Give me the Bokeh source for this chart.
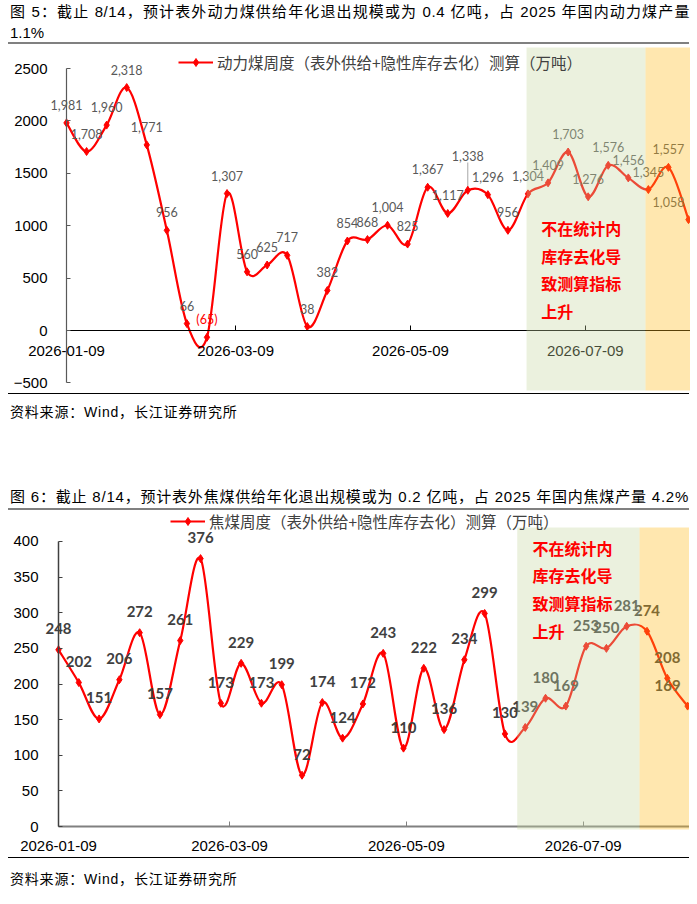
import numpy as np
import pandas as pd
from bokeh.plotting import figure
from bokeh.models import (ColumnDataSource, FixedTicker, DatetimeTickFormatter, Legend,
                          LegendItem, Div, Range1d)
from bokeh.layouts import column
from bokeh.embed import file_html
from bokeh.resources import INLINE
from bokeh.core.properties import value

# ---------------- data ----------------
dates = ["2026-01-09", "2026-01-16", "2026-01-23", "2026-01-30", "2026-02-06", "2026-02-13",
         "2026-02-20", "2026-02-27", "2026-03-06", "2026-03-13", "2026-03-20", "2026-03-27",
         "2026-04-03", "2026-04-10", "2026-04-17", "2026-04-24", "2026-05-01", "2026-05-08",
         "2026-05-15", "2026-05-22", "2026-05-29", "2026-06-05", "2026-06-12", "2026-06-19",
         "2026-06-26", "2026-07-03", "2026-07-10", "2026-07-17", "2026-07-24", "2026-07-31",
         "2026-08-07", "2026-08-14"]
thermal = [1981, 1708, 1960, 2318, 1771, 956, 66, -65, 1307, 560, 625, 717, 38, 382, 854, 868,
           1004, 825, 1367, 1117, 1338, 1296, 956, 1304, 1409, 1703, 1276, 1576, 1456, 1345,
           1557, 1058]
coking = [248, 202, 151, 206, 272, 157, 261, 376, 173, 229, 173, 199, 72, 174, 124, 172, 243,
          110, 222, 136, 234, 299, 130, 139, 180, 169, 253, 250, 281, 274, 208, 169]
x_tick_dates = ["2026-01-09", "2026-03-09", "2026-05-09", "2026-07-09"]
y_ticks_top = [-500, 0, 500, 1000, 1500, 2000, 2500]
y_ticks_bot = [0, 50, 100, 150, 200, 250, 300, 350, 400]

title_top_1 = "图 5：截止 8/14，预计表外动力煤供给年化退出规模或为 0.4 亿吨，占 2025 年国内动力煤产量"
title_top_2 = "1.1%"
title_bot = "图 6：截止 8/14，预计表外焦煤供给年化退出规模或为 0.2 亿吨，占 2025 年国内焦煤产量 4.2%"
legend_top = "动力煤周度（表外供给+隐性库存去化）测算（万吨）"
legend_bot = "焦煤周度（表外供给+隐性库存去化）测算（万吨）"
note_text = "不在统计内\n库存去化导\n致测算指标\n上升"
source_text = "资料来源：Wind，长江证券研究所"

# ---------------- helpers ----------------
DAY = 86400000.0


def ms(s):
    return pd.Timestamp(s).value / 1e6


xs = np.array([ms(d) for d in dates])
X0 = ms("2026-01-09")
X_END = X0 + 217.7 * DAY

RED = "#FF0000"
CJK = "Noto Sans CJK SC"
LAT = "Liberation Sans"


def bezier_source(xv, yv):
    P = np.column_stack([xv, np.asarray(yv, dtype=float)])
    n = len(P)
    cols = {k: [] for k in ["x0", "y0", "x1", "y1", "cx0", "cy0", "cx1", "cy1"]}
    for i in range(n - 1):
        p0 = P[max(i - 1, 0)]
        p1 = P[i]
        p2 = P[i + 1]
        p3 = P[min(i + 2, n - 1)]
        c1 = p1 + (p2 - p0) / 6.0
        c2 = p2 - (p3 - p1) / 6.0
        cols["x0"].append(p1[0]); cols["y0"].append(p1[1])
        cols["x1"].append(p2[0]); cols["y1"].append(p2[1])
        cols["cx0"].append(c1[0]); cols["cy0"].append(c1[1])
        cols["cx1"].append(c2[0]); cols["cy1"].append(c2[1])
    return ColumnDataSource(cols)


def base_fig(width, height, xr, yr):
    p = figure(width=width, height=height, x_range=Range1d(*xr), y_range=Range1d(*yr),
               x_axis_type="datetime", output_backend="svg", toolbar_location=None,
               min_border_left=0, min_border_right=0, min_border_top=0, min_border_bottom=0)
    p.xgrid.visible = False
    p.ygrid.visible = False
    p.outline_line_color = None
    p.background_fill_color = "white"
    p.border_fill_color = "white"
    return p


def style_axes(p, y_ticks, y_bounds, x_color, x_width, y_color, y_width, x_standoff, y_standoff):
    xa = p.xaxis[0]
    xa.fixed_location = 0
    xa.bounds = (X0, X_END)
    xa.ticker = FixedTicker(ticks=[ms(t) for t in x_tick_dates])
    xa.formatter = DatetimeTickFormatter(days="%Y-%m-%d", months="%Y-%m-%d", years="%Y-%m-%d",
                                         hours="%Y-%m-%d", hourmin="%Y-%m-%d")
    xa.axis_line_color = x_color
    xa.axis_line_width = x_width
    xa.major_tick_line_color = x_color
    xa.major_tick_in = 5
    xa.major_tick_out = 0
    xa.minor_tick_line_color = None
    xa.major_label_text_font = LAT
    xa.major_label_text_font_size = "15px"
    xa.major_label_text_color = "#000000"
    xa.major_label_standoff = x_standoff

    ya = p.yaxis[0]
    ya.fixed_location = X0
    ya.ticker = FixedTicker(ticks=y_ticks)
    ya.bounds = y_bounds
    ya.axis_line_color = y_color
    ya.axis_line_width = y_width
    ya.major_tick_line_color = y_color
    ya.major_tick_in = 4
    ya.major_tick_out = 0
    ya.minor_tick_line_color = None
    ya.major_label_text_font = LAT
    ya.major_label_text_font_size = "15px"
    ya.major_label_text_color = "#000000"
    ya.major_label_standoff = y_standoff


def add_shades(p, green, yellow_start, ybot, ytop):
    p.quad(left=[ms(green[0])], right=[ms(green[1])], bottom=[ybot], top=[ytop],
           fill_color="#C6D7A1", fill_alpha=0.35, line_color=None, level="annotation")
    p.quad(left=[ms(yellow_start)], right=[X_END + DAY], bottom=[ybot], top=[ytop],
           fill_color="#FFBA1A", fill_alpha=0.35, line_color=None, level="annotation")


def add_legend(p, label, rends, loc):
    lg = Legend(items=[LegendItem(label=label, renderers=rends)], location=loc)
    lg.label_text_font = CJK
    lg.label_text_font_size = "15.5px"
    lg.label_text_color = "#404040"
    lg.glyph_width = 35
    lg.glyph_height = 20
    lg.label_height = 20
    lg.label_standoff = 4
    lg.padding = 0
    lg.margin = 0
    lg.spacing = 0
    lg.border_line_color = None
    lg.background_fill_alpha = 0
    p.add_layout(lg, "center")


# ---------------- top chart ----------------
# frame: page x 8..690, page y 44..393 ; y-axis at page x 66
p1 = base_fig(682, 349, (X0 - 20.24 * DAY, X_END), (-601, 2729))
style_axes(p1, y_ticks_top, (-500, 2500), "#000000", 1, "#595959", 1.2, 15, 19)

lead_i = 20
p1.segment(x0=[xs[lead_i]], y0=[thermal[lead_i] + 20], x1=[xs[lead_i]], y1=[thermal[lead_i] + 265],
           line_color="#A6A6A6", line_width=1)

bz1 = p1.bezier(source=bezier_source(xs, thermal), x0="x0", y0="y0", x1="x1", y1="y1",
                cx0="cx0", cy0="cy0", cx1="cx1", cy1="cy1", line_color=RED, line_width=2.2)
sc1 = p1.scatter(xs, thermal, marker="diamond", size=8, fill_color=RED, line_color=RED)

lab1 = ["({:,})".format(-v) if v < 0 else "{:,}".format(v) for v in thermal]
col1 = [RED if v < 0 else "#595959" for v in thermal]
dx1 = [0.0] * len(thermal)
dy1 = [-18.0] * len(thermal)
dy1[lead_i] = -34.0
dx1[-1] = -20.0
p1.text(x="x", y="y", text="t", text_color="c", x_offset="dx", y_offset="dy",
        source=ColumnDataSource(dict(x=xs, y=thermal, t=lab1, c=col1, dx=dx1, dy=dy1)),
        text_font=value("Lato"), text_font_size="12.5px", text_align="center",
        text_baseline="middle")

add_shades(p1, ("2026-06-18 12:00", "2026-07-30"), "2026-07-30", -572, 2700)

p1.text(x=[ms("2026-06-23 16:00")], y=[1090], text=[note_text], text_font=value(CJK),
        text_font_style="bold", text_font_size="16px", text_color=RED, text_align="left",
        text_baseline="top", text_line_height=1.15, level="overlay")

add_legend(p1, legend_top, [bz1, sc1], (170, 320))

# ---------------- bottom chart ----------------
# frame: page x 8..689, page y 510..857 ; y-axis at page x 58
p2 = base_fig(681, 347, (X0 - 17.25 * DAY, X0 + 217.66 * DAY), (-43.5, 443.5))
style_axes(p2, y_ticks_bot, (0, 400), "#808080", 2, "#404040", 1.5, 14, 20)

bz2 = p2.bezier(source=bezier_source(xs, coking), x0="x0", y0="y0", x1="x1", y1="y1",
                cx0="cx0", cy0="cy0", cx1="cx1", cy1="cy1", line_color=RED, line_width=2.2)
sc2 = p2.scatter(xs, coking, marker="diamond", size=8, fill_color=RED, line_color=RED)

lab2 = ["{:,}".format(v) for v in coking]
dx2 = [0.0] * len(coking)
dx2[-1] = -20.0
p2.text(x="x", y="y", text="t", x_offset="dx", y_offset=-21,
        source=ColumnDataSource(dict(x=xs, y=coking, t=lab2, dx=dx2)),
        text_font=value("Lato"), text_font_style="bold", text_font_size="15px",
        text_color="#404040", text_align="center", text_baseline="middle")

add_shades(p2, ("2026-06-16 06:00", "2026-07-28 10:00"), "2026-07-28 10:00", -4.2, 419.6)

p2.text(x=[ms("2026-06-21 12:00")], y=[408], text=[note_text], text_font=value(CJK),
        text_font_style="bold", text_font_size="16px", text_color=RED, text_align="left",
        text_baseline="top", text_line_height=1.15, level="overlay")

add_legend(p2, legend_bot, [bz2, sc2], (162, 325))

# ---------------- text blocks ----------------
FONT_CSS = "font-family:'Liberation Sans','Noto Sans CJK SC',sans-serif;color:#000;"

t1_html = (
    '<div style="position:relative;width:681px;height:36px;box-sizing:border-box;'
    'border-bottom:2px solid #808080;' + FONT_CSS + 'font-size:15px;">'
    '<div style="position:absolute;left:2px;width:680px;top:-4px;line-height:16px;'
    'white-space:nowrap;text-align:justify;text-align-last:justify;letter-spacing:0.6px;">'
    + title_top_1 + '</div>'
    '<div style="position:absolute;left:2px;top:17px;line-height:16px;">' + title_top_2 + '</div>'
    '</div>')
s1_html = (
    '<div style="position:relative;width:681px;height:93px;box-sizing:border-box;'
    'border-top:1px solid #000;' + FONT_CSS + 'font-size:14px;">'
    '<div style="position:absolute;left:2px;top:10px;line-height:16px;letter-spacing:0.8px;">'
    + source_text + '</div></div>')
t2_html = (
    '<div style="position:relative;width:681px;height:24px;box-sizing:border-box;'
    'border-bottom:2px solid #808080;' + FONT_CSS + 'font-size:15px;">'
    '<div style="position:absolute;left:2px;top:3px;line-height:16px;white-space:nowrap;'
    'letter-spacing:0.8px;">' + title_bot + '</div></div>')
s2_html = (
    '<div style="position:relative;width:681px;height:38px;box-sizing:border-box;'
    'border-top:1px solid #000;' + FONT_CSS + 'font-size:14px;">'
    '<div style="position:absolute;left:2px;top:13px;line-height:16px;letter-spacing:0.8px;">'
    + source_text + '</div></div>')

d1 = Div(text=t1_html, width=681, height=36, margin=0)
d2 = Div(text=s1_html, width=681, height=93, margin=0)
d3 = Div(text=t2_html, width=681, height=24, margin=0)
d4 = Div(text=s2_html, width=681, height=38, margin=0)

# the page itself has no margin here, so the 8px margin is given to the layout
layout = column(d1, p1, d2, d3, p2, d4, spacing=0, margin=(8, 0, 0, 8))

open("out.html", "w").write(file_html(layout, INLINE))
